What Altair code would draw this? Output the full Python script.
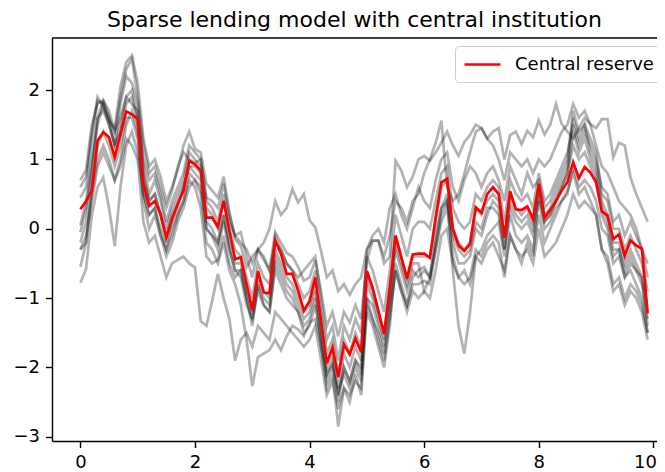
import altair as alt
import pandas as pd

# x grid: 0.0 .. 9.9 in steps of 0.1
x_values = [i / 10 for i in range(100)]

central = [
    0.28, 0.40, 0.55, 1.27, 1.39, 1.32, 1.03, 1.36, 1.69, 1.65,
    1.58, 0.64, 0.33, 0.40, 0.21, -0.13, 0.14, 0.36, 0.55, 0.98,
    0.93, 0.84, 0.16, 0.16, 0.03, 0.40, -0.03, -0.44, -0.41, -0.80,
    -1.17, -0.61, -0.92, -0.93, -0.17, -0.36, -0.65, -0.65, -0.89, -1.18,
    -1.04, -0.70, -1.33, -1.94, -1.71, -2.14, -1.67, -1.81, -1.58, -1.78,
    -0.61, -0.85, -1.18, -1.52, -0.85, -0.10, -0.41, -0.72, -0.37, -0.36,
    -0.36, -0.42, 0.16, 0.67, 0.72, 0.00, -0.24, -0.32, -0.22, 0.31,
    0.23, 0.50, 0.60, 0.50, -0.13, 0.54, 0.28, 0.27, 0.32, 0.14,
    0.65, 0.16, 0.27, 0.40, 0.55, 0.67, 0.96, 0.73, 0.89, 0.81,
    0.67, 0.25, 0.19, -0.15, -0.08, -0.39, -0.17, -0.24, -0.29, -1.22,
]

bank_1 = [
    0.70, 0.85, 1.50, 1.80, 1.85, 1.60, 1.40, 1.90, 2.30, 2.45,
    1.90, 1.20, 0.80, 0.90, 0.60, 0.30, 0.55, 0.90, 1.10, 1.00,
    0.95, 1.00, 0.45, 0.40, 0.30, 0.65, 0.20, -0.10, -0.05, -0.40,
    -0.70, -0.30, -0.45, -0.60, -0.05, -0.20, -0.35, -0.40, -0.55, -0.75,
    -0.70, -0.45, -0.90, -1.40, -1.20, -1.55, -1.20, -1.35, -1.10, -1.30,
    -0.46, -0.17, -0.17, -0.50, -0.40, 0.98, 0.84, 0.60, 0.75, 1.00,
    1.05, 0.98, 1.10, 1.24, 1.40, 1.20, 1.05, 1.25, 1.35, 1.50,
    1.45, 1.30, 1.40, 1.45, 1.00, 1.35, 1.40, 1.22, 1.41, 1.32,
    1.56, 1.36, 1.50, 1.80, 1.51, 1.40, 1.30, 1.45, 1.60, 1.51,
    1.45, 1.58, 1.58, 1.03, 1.24, 1.20, 0.74, 0.50, 0.30, 0.10,
]
bank_2 = [
    -0.30, -0.20, 0.50, 1.00, 1.20, 1.00, 0.70, 1.00, 1.50, 1.70,
    1.40, 0.40, 0.00, 0.20, -0.10, -0.40, -0.20, 0.10, 0.30, 0.60,
    0.70, 0.50, -0.20, -0.30, -0.50, -0.20, -0.60, -0.80, -1.10, -1.60,
    -2.27, -1.85, -1.80, -1.75, -1.60, -1.75, -1.55, -1.40, -1.45, -1.55,
    -1.35, -1.30, -1.70, -2.10, -1.95, -2.35, -2.10, -2.30, -2.00, -2.20,
    -1.10, -1.30, -1.50, -1.80, -1.20, -0.60, -0.90, -1.10, -0.70, -0.60,
    -0.55, -0.70, -0.10, 0.30, 0.50, -0.60, -1.40, -1.80, -1.20, -0.40,
    -0.30, -0.10, 0.00, 0.10, -0.40, 0.20, -0.10, -0.20, -0.10, -0.30,
    0.20, -0.20, 0.00, 0.20, 0.40, 0.55, 0.80, 0.50, 0.60, 0.40,
    0.20, -0.30, -0.50, -0.90, -0.80, -1.10, -0.90, -1.00, -1.20, -1.60,
]
bank_3 = [
    -0.78, -0.58, 0.20, 0.60, 0.74, 0.30, -0.25, 0.60, 1.20, 1.40,
    1.10, 0.50, 0.20, 0.30, -0.10, -0.30, -0.10, 0.20, 0.40, 0.70,
    0.60, 0.30, -0.40, -0.50, -0.45, -0.10, -0.50, -0.70, -0.60, -1.00,
    -1.30, -0.90, -1.10, -1.20, -0.60, -0.80, -1.00, -1.10, -1.20, -1.50,
    -1.40, -1.10, -1.60, -2.20, -2.00, -2.40, -2.00, -2.20, -1.90, -2.00,
    -1.00, -1.10, -1.40, -1.70, -1.00, -0.30, -0.60, -0.90, -0.60, -0.70,
    -0.60, -0.70, -0.20, 0.30, 0.40, -0.10, -0.30, -0.40, -0.30, 0.10,
    0.00, 0.30, 0.30, 0.20, -0.30, 0.30, 0.10, 0.00, 0.10, -0.10,
    0.40, 0.00, 0.10, 0.30, 0.40, 0.50, 0.90, 0.60, 0.70, 0.60,
    0.40, 0.00, -0.10, -0.50, -0.40, -0.70, -0.50, -0.60, -0.70, -1.40,
]
bank_4 = [
    -0.20, 0.10, 0.80, 1.60, 1.70, 1.50, 1.20, 1.50, 1.90, 1.80,
    1.70, 0.80, 0.40, 0.50, 0.20, -0.20, 0.10, 0.30, 0.60, 0.90,
    0.80, 0.70, 0.00, -0.10, -0.20, 0.20, -0.30, -0.60, -0.60, -1.00,
    -1.40, -0.80, -1.10, -1.20, -0.50, -0.70, -0.90, -1.00, -1.20, -1.40,
    -1.30, -1.00, -1.70, -2.30, -2.10, -2.85, -2.30, -2.50, -2.10, -2.40,
    -1.20, -1.40, -1.70, -2.00, -1.40, -0.50, -0.80, -1.10, -0.80, -0.80,
    -0.75, -0.80, -0.30, 0.20, 0.40, -0.20, -0.50, -0.50, -0.40, 0.00,
    -0.10, 0.20, 0.40, 0.30, -0.30, 0.40, 0.20, 0.10, 0.20, 0.00,
    0.50, 0.10, 0.20, 0.40, 0.60, 0.80, 1.20, 1.00, 1.10, 0.90,
    0.70, 0.20, 0.00, -0.40, -0.30, -0.70, -0.60, -0.80, -1.00, -1.50,
]
bank_5 = [
    0.60, 0.75, 1.40, 1.90, 1.75, 1.55, 1.45, 2.05, 2.40, 2.50,
    2.10, 1.30, 0.90, 1.00, 0.75, 0.40, 0.60, 0.85, 1.20, 1.40,
    1.15, 1.10, 0.65, 0.55, 0.45, 0.75, 0.25, -0.15, -0.25, -0.55,
    -0.40, -0.30, -0.20, 0.00, 0.40, 0.20, 0.30, 0.57, 0.38, 0.50,
    0.12, 0.02, -0.32, -0.70, -0.60, -0.90, -0.80, -0.95, -0.80, -0.70,
    -0.30, -0.17, -0.17, -0.40, -0.10, 0.40, 0.30, 0.10, 0.40, 0.50,
    0.80, 1.00, 1.24, 1.56, 0.60, 0.40, 0.50, 0.79, 1.10, 1.40,
    1.45, 1.30, 1.20, 1.00, 0.70, 1.10, 1.00, 0.90, 1.00, 0.80,
    1.00, 0.90, 1.00, 1.20, 1.40, 1.50, 1.80, 1.60, 1.70, 1.50,
    1.20, 0.90, 0.80, 0.60, 0.40, 0.30, 0.20, 0.00, -0.30, -0.70,
]
bank_6 = [
    -0.30, -0.10, 0.40, 0.90, 1.10, 0.90, 0.70, 0.90, 1.30, 1.20,
    1.00, 0.10, -0.20, -0.10, -0.40, -0.70, -0.50, -0.45, -0.40, -0.50,
    -0.56, -1.33, -1.40, -1.04, -0.65, -1.00, -1.30, -1.90, -1.60, -1.50,
    -1.70, -1.40, -1.50, -1.60, -1.20, -1.30, -1.40, -1.50, -1.60, -1.70,
    -1.60, -1.40, -1.90, -2.40, -2.20, -2.60, -2.30, -2.40, -2.20, -2.30,
    -1.00, -1.30, -1.60, -1.90, -1.30, -0.60, -0.90, -1.20, -0.90, -1.00,
    -0.90, -1.00, -0.60, -0.10, 0.00, -0.50, -0.70, -0.80, -0.70, -0.30,
    -0.40, -0.20, -0.10, -0.20, -0.70, -0.10, -0.30, -0.40, -0.30, -0.50,
    0.00, -0.40, -0.30, -0.20, 0.00, 0.20, 0.50, 0.30, 0.40, 0.30,
    0.20, -0.30, -0.40, -0.80, -0.70, -1.00, -0.80, -0.90, -1.10, -1.50,
]
bank_7 = [
    0.05, 0.40, 1.00, 1.60, 1.85, 1.70, 1.40, 1.60, 1.90, 2.00,
    1.60, 1.00, 0.70, 0.80, 0.50, 0.10, 0.40, 0.60, 0.80, 1.20,
    1.10, 1.00, 0.40, 0.30, 0.10, 0.50, 0.10, -0.10, -0.20, -0.30,
    -0.50, -0.30, -0.40, -0.60, -0.20, -0.30, -0.50, -0.60, -0.70, -0.60,
    -0.50, -0.40, -1.00, -1.60, -1.40, -1.90, -1.40, -1.60, -1.30, -1.50,
    -0.40, -0.60, -0.90, -1.20, -0.60, 0.20, -0.10, -0.40, 0.00, 0.10,
    0.10, 0.00, 0.40, 0.80, 0.90, 0.30, 0.10, 0.00, 0.10, 0.50,
    0.40, 0.60, 0.70, 0.60, 0.10, 0.70, 0.50, 0.40, 0.50, 0.30,
    0.80, 0.40, 0.50, 0.70, 0.90, 1.10, 1.50, 1.20, 1.40, 1.20,
    1.00, 0.60, 0.50, 0.10, 0.20, -0.10, 0.10, -0.10, -0.30, -0.50,
]
bank_8 = [
    -0.05, 0.30, 0.90, 1.50, 1.80, 1.60, 1.20, 1.40, 1.80, 1.90,
    1.50, 0.70, 0.40, 0.50, 0.20, -0.10, 0.20, 0.40, 0.60, 0.90,
    0.90, 0.80, 0.10, 0.00, -0.20, 0.20, -0.20, -0.50, -0.50, -0.90,
    -1.20, -0.70, -0.90, -1.00, -0.30, -0.50, -0.70, -0.80, -1.00, -1.20,
    -1.10, -0.80, -1.40, -2.00, -1.80, -2.30, -1.80, -2.00, -1.70, -1.90,
    -0.70, -0.90, -1.20, -1.50, -0.90, -0.10, -0.40, -0.70, -0.40, -0.40,
    -0.40, -0.40, 0.10, 0.60, 0.70, 0.00, -0.20, -0.30, -0.20, 0.30,
    0.20, 0.40, 0.50, 0.40, -0.10, 0.50, 0.30, 0.20, 0.30, 0.10,
    0.60, 0.20, 0.30, 0.50, 0.70, 0.90, 1.60, 1.30, 1.50, 1.10,
    0.90, 0.40, 0.20, -0.20, -0.20, -0.50, -0.30, -0.50, -0.70, -1.20,
]
bank_9 = [
    0.45, 0.60, 1.30, 1.85, 1.80, 1.50, 1.20, 1.80, 2.20, 2.10,
    1.80, 0.90, 0.50, 0.70, 0.40, 0.00, 0.30, 0.50, 0.70, 1.10,
    1.00, 0.90, 0.30, 0.20, 0.00, 0.40, 0.00, -0.30, -0.40, -0.70,
    -1.00, -0.50, -0.70, -0.80, -0.10, -0.30, -0.50, -0.60, -0.80, -1.00,
    -0.90, -0.60, -1.20, -1.80, -1.60, -2.10, -1.60, -1.80, -1.50, -1.70,
    -0.30, -0.10, 0.00, -0.20, 0.30, 0.50, 0.20, 0.00, 0.30, 0.60,
    0.40, 0.30, 0.70, 1.00, 1.10, 0.60, 0.40, 0.70, 0.90, 0.80,
    0.60, 0.80, 0.90, 0.70, 0.40, 0.90, 0.70, 0.50, 0.80, 0.60,
    0.70, 0.30, 0.40, 0.60, 0.80, 1.00, 1.70, 1.40, 1.50, 1.30,
    1.10, 0.50, 0.40, 0.00, 0.00, -0.30, -0.10, -0.30, -0.50, -0.90,
]
bank_10 = [
    -0.55, -0.20, 0.60, 1.20, 1.40, 1.20, 0.90, 1.20, 1.60, 1.60,
    1.30, 0.50, 0.20, 0.30, 0.00, -0.30, 0.00, 0.20, 0.40, 0.80,
    0.70, 0.60, 0.00, -0.10, -0.30, 0.10, -0.30, -0.60, -0.70, -1.10,
    -1.30, -0.80, -1.00, -1.10, -0.40, -0.60, -0.80, -0.90, -1.10, -1.30,
    -1.20, -0.90, -1.50, -2.10, -1.90, -2.50, -2.00, -2.20, -1.90, -2.10,
    -0.80, -1.00, -1.30, -1.60, -1.00, -0.20, -0.50, -0.80, -0.50, -0.50,
    -0.90, -0.70, -0.30, 0.10, 0.30, -0.40, -0.70, -0.60, -0.80, -0.40,
    -0.50, -0.30, -0.20, -0.40, -0.60, -0.10, -0.30, -0.50, -0.20, -0.40,
    0.50, 0.10, 0.20, 0.40, 0.60, 0.80, 1.40, 1.10, 1.30, 1.00,
    0.80, 0.30, 0.10, -0.30, -0.30, -0.60, -0.40, -0.60, -0.80, -1.30,
]

banks = [bank_1, bank_2, bank_3, bank_4, bank_5,
         bank_6, bank_7, bank_8, bank_9, bank_10]

gray_rows = []
for k, series in enumerate(banks):
    for xv, yv in zip(x_values, series):
        gray_rows.append({"x": xv, "y": yv, "bank": f"bank {k + 1}"})
gray_df = pd.DataFrame(gray_rows)

red_df = pd.DataFrame({"x": x_values, "y": central, "label": "Central reserve"})

FONT = "DejaVu Sans"
PLOT_W = 605
PLOT_H = 403

x_enc = alt.X(
    "x:Q",
    scale=alt.Scale(domain=[-0.495, 10.063], nice=False, zero=False),
    axis=alt.Axis(
        values=[0, 2, 4, 6, 8, 10], format="d", title=None,
        labelFlush=5, labelFlushOffset=3,
    ),
)
y_enc = alt.Y(
    "y:Q",
    scale=alt.Scale(domain=[-3.06, 2.75], nice=False, zero=False),
    axis=alt.Axis(values=[-3, -2, -1, 0, 1, 2], format="d", title=None),
)

gray = alt.Chart(gray_df).mark_line(
    color="black", opacity=0.3, strokeWidth=2.7, clip=True
).encode(x=x_enc, y=y_enc, detail="bank:N", order="x:Q")

red = alt.Chart(red_df).mark_line(strokeWidth=2.7, clip=True).encode(
    x=x_enc,
    y=y_enc,
    order="x:Q",
    color=alt.Color(
        "label:N",
        scale=alt.Scale(domain=["Central reserve"], range=["red"]),
        legend=alt.Legend(
            title=None,
            orient="none",
            legendX=403,
            legendY=8,
            symbolType="M-2,0H2",
            symbolSize=324,
            symbolOffset=9,
            symbolStrokeWidth=2.7,
            labelFontSize=18,
            labelFont=FONT,
            labelColor="black",
            labelOffset=22,
            strokeColor="#cccccc",
            fillColor="white",
            padding=8,
            cornerRadius=4,
        ),
    ),
)

# top spine of the axes box
top_spine = alt.Chart(pd.DataFrame({"k": [0]})).mark_rule(
    color="black", strokeWidth=1.4
).encode(x=alt.value(0), x2=alt.value(PLOT_W), y=alt.value(0))

chart = (
    alt.layer(gray, red, top_spine)
    .properties(
        width=PLOT_W,
        height=PLOT_H,
        background="white",
        autosize=alt.AutoSizeParams(type="none"),
        padding={"left": 44, "top": 30, "right": 0, "bottom": 33},
        title=alt.TitleParams(
            "Sparse lending model with central institution",
            fontSize=22,
            font=FONT,
            fontWeight="normal",
            color="black",
            anchor="middle",
            offset=5,
        ),
    )
    .configure_view(stroke=None)
    .configure_axis(
        grid=False,
        domainColor="black",
        domainWidth=1.4,
        tickColor="black",
        tickWidth=1.4,
        tickSize=6.5,
        labelFont=FONT,
        labelFontSize=18,
        labelColor="black",
        labelPadding=6,
    )
)

chart.save("out.html", embed_options={"renderer": "svg", "actions": False})
